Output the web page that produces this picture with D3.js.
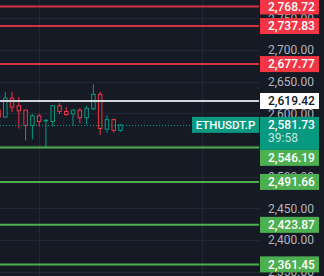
<!DOCTYPE html>
<meta charset="utf-8">
<style>
body { margin: 0; background: #161a25; }
text { font-family: Roboto, sans-serif; font-size: 12px; }
</style>
<svg id="chart" width="324" height="276"></svg>
<script src="https://d3js.org/d3.v7.min.js"></script>
<script>

// ---- data ----
var candleOpen  = [2605, 2594, 2624, 2612, 2605, 2581, 2596, 2588, 2587, 2612, 2603, 2599, 2605, 2593, 2607, 2630, 2575, 2590, 2573];
var candleHigh  = [2609, 2634, 2634, 2626, 2606, 2599, 2599, 2591, 2613, 2616, 2610, 2606, 2608, 2612, 2646, 2634, 2597, 2592, 2582];
var candleLow   = [2591, 2593, 2602, 2576, 2557, 2559, 2579, 2545, 2579, 2599, 2596, 2580, 2585, 2582, 2605, 2566, 2569, 2570, 2571];
var candleClose = [2594, 2624, 2610, 2604, 2581, 2596, 2587, 2589, 2612, 2603, 2598, 2605, 2593, 2608, 2630, 2576, 2590, 2573, 2581.73];

var axisTicks   = [2350, 2400, 2450, 2500, 2550, 2600, 2650, 2700, 2750];
var timeTicks   = [6, 30];

var redLevels   = [2768.72, 2737.83, 2677.77];
var whiteLevels = [2619.42];
var greenLevels = [2546.19, 2491.66, 2423.87, 2361.45];

var lastPrice = 2581.73;
var symbol    = "ETHUSDT.P";
var countdown = "39:58";

// ---- setup ----
var svg = d3.select("#chart");
var W = 324, H = 276;
var plotW = 259;

var colors = {
    bg: "#161a25", grid: "#232733", axisText: "#b2b5be",
    up: "#089981", down: "#f23645", red: "#f23645", redLine: "#d33240",
    green: "#4caf50", white: "#d1d4dc"
};

var y = d3.scaleLinear().domain([2343.1, 2778.95]).range([H, 0]);
var x = d3.scaleLinear().domain([0, 18]).range([-1.5, 120.5]);
var fmt = d3.format(",.2f");

svg.append("rect").attr("width", W).attr("height", H).attr("fill", colors.bg);

// grid
svg.selectAll(".hgrid").data(axisTicks).enter().append("line")
    .attr("x1", 0).attr("x2", plotW)
    .attr("y1", d => Math.round(y(d)) + 0.5).attr("y2", d => Math.round(y(d)) + 0.5)
    .attr("stroke", colors.grid);
svg.selectAll(".vgrid").data(timeTicks).enter().append("line")
    .attr("x1", d => Math.round(x(d)) + 0.5).attr("x2", d => Math.round(x(d)) + 0.5)
    .attr("y1", 0).attr("y2", H)
    .attr("stroke", colors.grid);

// work out where the label boxes go first, so fully covered axis labels can be skipped
var boxH = 16, boxX = 260, boxW = 59;
var lastY = y(lastPrice);
var boxes = [];   // [top, bottom]
redLevels.concat(whiteLevels).forEach(v => boxes.push([y(v) - boxH / 2, y(v) + boxH / 2]));
boxes.push([lastY - boxH / 2, lastY + boxH * 1.5 + 1]);
var greenY = [];
var bottom = lastY + boxH * 1.5 + 1;
greenLevels.forEach(v => {
    var cy = Math.max(y(v), bottom + boxH / 2);
    greenY.push(cy);
    boxes.push([cy - boxH / 2, cy + boxH / 2]);
    bottom = cy + boxH / 2;
});
function covered(t) {
    for (var k = t - 4; k <= t + 4; k++) {
        if (!boxes.some(b => k >= b[0] && k <= b[1])) return false;
    }
    return true;
}

// axis labels
svg.selectAll(".tick").data(axisTicks.filter(d => !covered(y(d)))).enter().append("text")
    .attr("x", 268).attr("y", d => y(d)).attr("dy", "0.36em")
    .attr("fill", colors.axisText)
    .text(d => fmt(d));

// candles
var candles = candleOpen.map((o, i) => ({
    i: i, o: o, h: candleHigh[i], l: candleLow[i], c: candleClose[i]
}));
var cg = svg.append("g");
cg.selectAll(".wick").data(candles).enter().append("line")
    .attr("x1", d => x(d.i)).attr("x2", d => x(d.i))
    .attr("y1", d => y(d.h)).attr("y2", d => y(d.l))
    .attr("stroke", d => d.c >= d.o ? colors.up : colors.down);
cg.selectAll(".body").data(candles).enter().append("rect")
    .attr("x", d => x(d.i) - 1.75).attr("width", 3.5)
    .attr("y", d => y(Math.max(d.o, d.c)))
    .attr("height", d => Math.max(0.5, Math.abs(y(d.o) - y(d.c))))
    .attr("fill", colors.bg)
    .attr("stroke", d => d.c >= d.o ? colors.up : colors.down);

// level lines
function levelLines(data, color) {
    svg.selectAll(null).data(data).enter().append("line")
        .attr("x1", 0).attr("x2", plotW)
        .attr("y1", d => y(d)).attr("y2", d => y(d))
        .attr("stroke", color).attr("stroke-width", 2);
}
levelLines(redLevels, colors.redLine);
levelLines(whiteLevels, colors.white);
levelLines(greenLevels, colors.green);

// last price dotted line
svg.append("line")
    .attr("x1", 0).attr("x2", 192)
    .attr("y1", Math.round(lastY) + 0.5).attr("y2", Math.round(lastY) + 0.5)
    .attr("stroke", colors.up).attr("stroke-dasharray", "1,2");

// price labels
function label(cy, fill, textFill, txt) {
    svg.append("rect").attr("x", boxX).attr("y", cy - boxH / 2)
        .attr("width", boxW).attr("height", boxH).attr("fill", fill);
    svg.append("text").attr("x", 268).attr("y", cy).attr("dy", "0.36em")
        .attr("fill", textFill).style("font-weight", 500).text(txt);
}
redLevels.forEach(v => label(y(v), colors.red, "#fff", fmt(v)));
whiteLevels.forEach(v => label(y(v), "#fff", "#131722", fmt(v)));

// current price box (two rows) and symbol tag
svg.append("rect").attr("x", boxX).attr("y", lastY - boxH / 2)
    .attr("width", boxW).attr("height", boxH * 2 + 1).attr("fill", colors.up);
svg.append("text").attr("x", 268).attr("y", lastY).attr("dy", "0.36em")
    .attr("fill", "#fff").style("font-weight", 500).text(fmt(lastPrice));
svg.append("text").attr("x", 268).attr("y", lastY + 12.5).attr("dy", "0.36em")
    .attr("fill", "rgba(255,255,255,0.78)").text(countdown);
svg.append("rect").attr("x", 192).attr("y", lastY - boxH / 2)
    .attr("width", 67).attr("height", boxH).attr("fill", colors.up);
svg.append("text").attr("x", 225.5).attr("y", lastY).attr("dy", "0.36em")
    .attr("text-anchor", "middle").attr("fill", "#fff")
    .style("font-size", "11.5px").style("font-weight", 500)
    .text(symbol);

// green labels, pushed below the current price box where they would overlap
greenLevels.forEach((v, k) => label(greenY[k], colors.green, "#fff", fmt(v)));

</script>
